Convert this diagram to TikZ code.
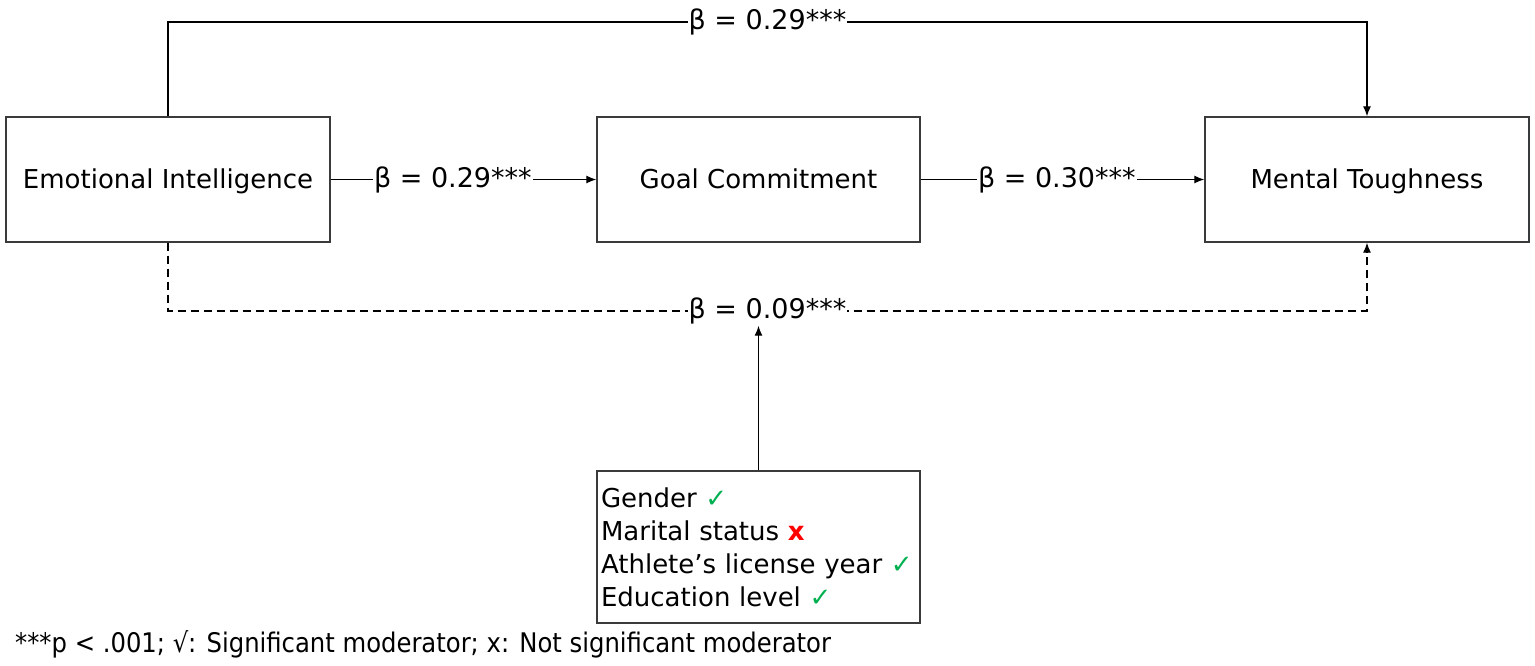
\documentclass[tikz,border=0pt]{standalone}
\usepackage{fontspec}
\setmainfont{DejaVu Sans}
\newfontfamily\condfont{DejaVu Sans Condensed}
\usetikzlibrary{arrows.meta,positioning,calc}
\definecolor{boxline}{HTML}{3A3A3A}
\definecolor{okgreen}{HTML}{00B050}
\definecolor{nored}{HTML}{FF0000}
\newcommand{\okmark}{\textcolor{okgreen}{✓}}
\newcommand{\nomark}{\textcolor{nored}{\textbf{x}}}

\begin{document}
\begin{tikzpicture}[x=1pt,y=1pt,
  var/.style={draw=boxline,line width=1.4pt,align=center,minimum width=324pt,minimum height=125pt,inner sep=0pt,text height=19pt,text depth=0pt,font=\fontsize{26}{30}\selectfont},
  modbox/.style={draw=boxline,line width=1.4pt,align=left,text width=315pt,minimum height=152pt,inner sep=4pt,font=\fontsize{26}{33}\selectfont},
  arr/.style={-{Latex[length=10pt,width=8pt]},line width=1.2pt,black},
  lbl/.style={font=\fontsize{27}{30}\selectfont,fill=white,inner sep=1pt}]
  \useasboundingbox (0,0) rectangle (1535,665);
  \node[var] (ei) at (168,485.5) {Emotional Intelligence};
  \node[var,minimum width=323pt] (gc) at (758.5,485.5) {Goal Commitment};
  \node[var] (mt) at (1367,485.5) {Mental Toughness};
  \node[modbox] (mod) at (758.5,118) {Gender \okmark\\Marital status \nomark\\Athlete’s license year \okmark\\Education level \okmark};
  % paths
  \draw[arr] (ei) -- (gc) node[lbl,pos=0.46] {β = 0.29***};
  \draw[arr] (gc) -- (mt) node[lbl,pos=0.48] {β = 0.30***};
  \coordinate (top) at (0,643);
  \draw[arr] (ei.north) -- (ei.north |- top) -- (mt.north |- top) node[lbl,pos=0.5] {β = 0.29***} -- (mt.north);
  \coordinate (low) at (0,354);
  \draw[arr,dashed,dash pattern=on 8pt off 5pt] (ei.south) -- (ei.south |- low) -- (mt.south |- low) node[lbl,pos=0.5] (b09) {β = 0.09***} -- (mt.south);
  \draw[arr] (mod.north) -- (mod.north |- b09.south);
  \node[anchor=base west,inner sep=0pt,font=\condfont\fontsize{27}{30}\selectfont] (note) at (15,13) {***p < .001; √: Significant moderator; x: Not significant moderator};
\end{tikzpicture}
\end{document}
